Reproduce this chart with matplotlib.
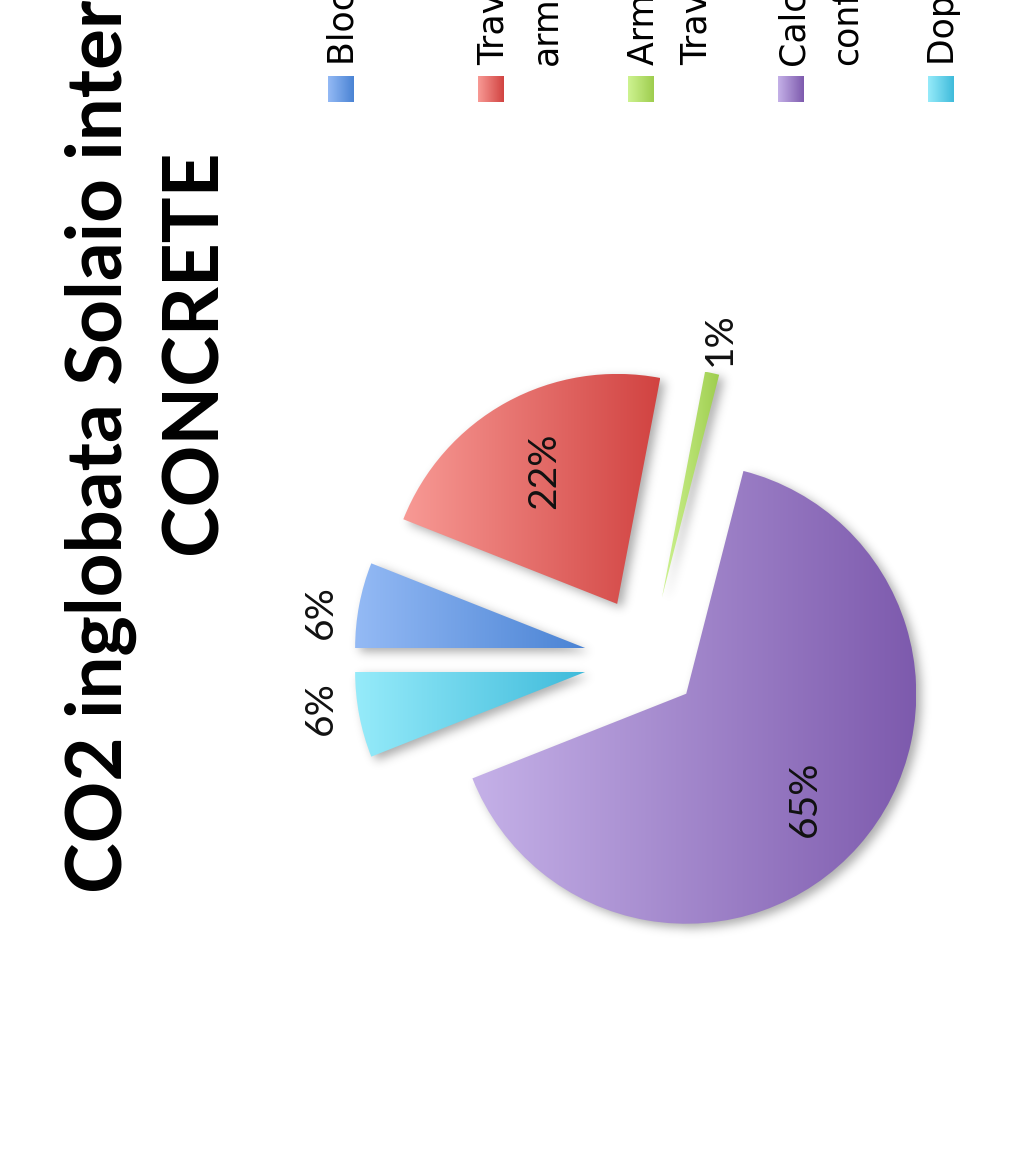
import numpy as np
import matplotlib
matplotlib.use("Agg")
import matplotlib.pyplot as plt
from matplotlib.colors import LinearSegmentedColormap

W, H = 1025, 1171

# Data
categories = [
    "Blocchi in calcestruzzo",
    "Travetti in calcestruzzo\narmato",
    "Armatura aggiuntiva\nTravetti",
    "Calcestruzzo\nconfezionato",
    "Doppio strato",
]
shares = [6, 22, 1, 65, 6]
title_text = "CO2 inglobata Solaio interpiano\nCONCRETE"

# Style
light = ["#94baf5", "#f89a95", "#cef391", "#c5b1e8", "#96ebfa"]
dark = ["#4a83d4", "#d14341", "#9ecd4e", "#7d5aad", "#3fbbdb"]
radius = 230
explode_px = [64, 64, 64, 51, 64]
label_dist = [1.16, 0.66, 1.15, 0.69, 1.16]
label_turn = [3.1, 0.0, 0.0, 0.0, -3.1]  # degrees added to the mid-angle

fig = plt.figure(figsize=(W / 100, H / 100), dpi=100)
ax = fig.add_axes([0, 0, 1, 1])

wedges, _ = ax.pie(shares, explode=explode_px, startangle=180, counterclock=False,
                   radius=radius, center=(648, H - 660), frame=True,
                   wedgeprops=dict(linewidth=0))

# Soft drop shadow below the slices
xs = np.arange(W) + 0.5
ys = H - (np.arange(H) + 0.5)
X, Y = np.meshgrid(xs, ys)
pts = np.column_stack([X.ravel(), Y.ravel()])
mask = np.zeros(X.size)
for w in wedges:
    mask = np.maximum(mask, w.get_path().contains_points(pts).astype(float))
mask = mask.reshape(H, W)
mask = np.roll(np.roll(mask, 4, axis=0), 5, axis=1)
sig = 5.0
kx = np.fft.fftfreq(W)
ky = np.fft.fftfreq(H)
G = np.exp(-2 * (np.pi * sig) ** 2 * (ky[:, None] ** 2 + kx[None, :] ** 2))
blur = np.real(np.fft.ifft2(np.fft.fft2(mask) * G))
shadow = np.zeros((H, W, 4))
shadow[..., 3] = np.clip(blur, 0, 1) * 0.33
ax.imshow(shadow, extent=(0, W, 0, H), origin="upper", zorder=0.5,
          interpolation="nearest", aspect="auto")

# Horizontal colour gradient inside every slice
grad = np.linspace(0, 1, 256)[None, :]
for i, w in enumerate(wedges):
    cmap = LinearSegmentedColormap.from_list(f"g{i}", [light[i], dark[i]])
    ext = w.get_path().get_extents()
    w.set_facecolor("none")
    im = ax.imshow(grad, cmap=cmap, extent=(ext.x0, ext.x1, ext.y0, ext.y1),
                   aspect="auto", interpolation="bicubic", zorder=2)
    im.set_clip_path(w)

# Percentage labels
for i, w in enumerate(wedges):
    ang = np.deg2rad((w.theta1 + w.theta2) / 2 + label_turn[i])
    x = w.center[0] + label_dist[i] * w.r * np.cos(ang)
    y = w.center[1] + label_dist[i] * w.r * np.sin(ang)
    ax.text(x, y, f"{shares[i]:.0f}%", rotation=90, ha="center", va="center",
            fontsize=28, family="Lato", color="#111111", zorder=5)

# Title
ax.text(147, H - 352, title_text, rotation=90, ha="center", va="center",
        multialignment="center", fontsize=55, fontweight="bold", family="Lato",
        linespacing=1.4, color="black", zorder=5)

# Legend
for i, lab in enumerate(categories):
    x0 = 328 + 150 * i
    cmap = LinearSegmentedColormap.from_list(f"l{i}", [light[i], dark[i]])
    ax.imshow(grad, cmap=cmap, extent=(x0, x0 + 26, H - 102, H - 76),
              aspect="auto", interpolation="bicubic", zorder=3)
    ax.text(x0 - 1, H - 65, lab, rotation=90, rotation_mode="anchor",
            ha="left", va="top", fontsize=25, family="DejaVu Sans",
            linespacing=1.68, color="black", zorder=5)

ax.set_xlim(0, W)
ax.set_ylim(0, H)
ax.set_aspect("auto")
ax.axis("off")
fig.savefig("out.png", dpi=100, facecolor="white")
